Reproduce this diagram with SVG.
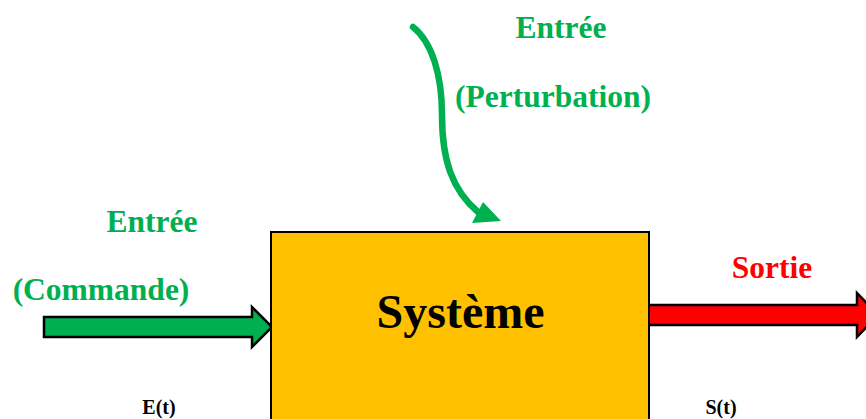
<svg xmlns="http://www.w3.org/2000/svg" width="866" height="419" viewBox="0 0 866 419">
<style>
text{font-family:"Liberation Serif","Times New Roman",serif;font-weight:bold;}
.g{fill:#00B050;font-size:31.5px;}
.r{fill:#FF0000;font-size:31.5px;}
.k{fill:#000;font-size:20px;}
</style>
<rect width="866" height="419" fill="#fff"/>
<g id="connectors">
<path d="M413,27 C432,42 442,75 442,115 C442,160 452,190 478,212" fill="none" stroke="#00B050" stroke-width="6.5" stroke-linecap="round"/>
<polygon points="483,202 501,221 472,223" fill="#00B050"/>
<polygon points="44,317 252,317 252,307 272,327 252,347 252,337 44,337" fill="#00B050" stroke="#000" stroke-width="2.5" stroke-linejoin="miter"/>
<polygon points="648,305 857,305 857,293 878,315 857,337 857,325 648,325" fill="#FF0000" stroke="#000" stroke-width="2.5"/>
</g>
<g id="systeme">
<rect x="271" y="232" width="378" height="200" fill="#FFC000" stroke="#000" stroke-width="2"/>
<text x="460.5" y="328" text-anchor="middle" font-size="48">Système</text>
</g>
<g id="perturbation">
<text class="g" x="561" y="38" text-anchor="middle">Entrée</text>
<text class="g" x="553" y="107" text-anchor="middle">(Perturbation)</text>
</g>
<g id="commande">
<text class="g" x="152" y="232" text-anchor="middle">Entrée</text>
<text class="g" x="101" y="300" text-anchor="middle">(Commande)</text>
<text class="k" x="159" y="414" text-anchor="middle">E(t)</text>
</g>
<g id="sortie">
<text class="r" x="772" y="278" text-anchor="middle">Sortie</text>
<text class="k" x="721" y="414" text-anchor="middle">S(t)</text>
</g>
</svg>
